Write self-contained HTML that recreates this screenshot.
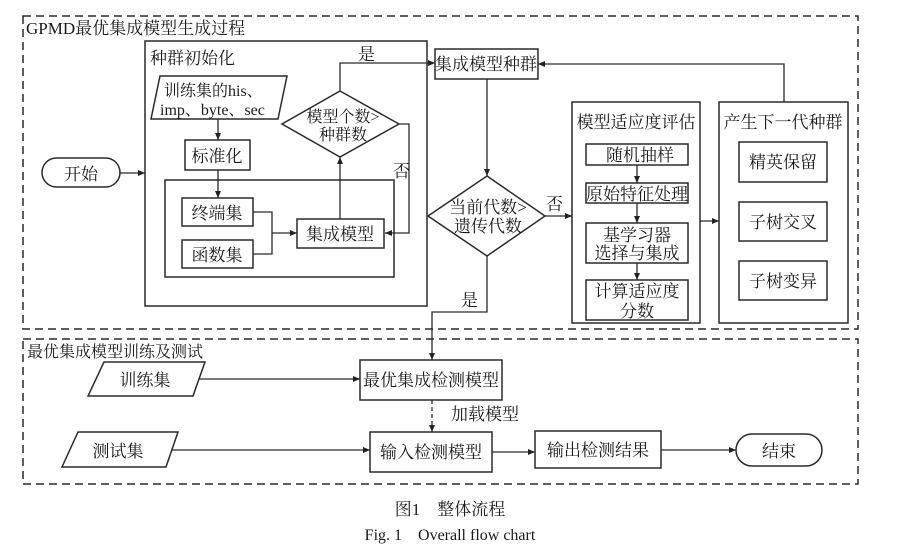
<!DOCTYPE html>
<html><head><meta charset="utf-8"><style>
body{margin:0;background:#fff}
svg{display:block}
text{font-family:"Liberation Serif","Noto Serif CJK SC",serif;fill:#1a1a1a}
</style></head><body>
<svg width="900" height="553" viewBox="0 0 900 553" xmlns="http://www.w3.org/2000/svg">
<defs><marker id="a" markerWidth="8" markerHeight="8" refX="7" refY="4" orient="auto" markerUnits="userSpaceOnUse"><path d="M0,1 L7,4 L0,7 Z" fill="#222"/></marker></defs>
<g fill="none" stroke="#2a2a2a" stroke-width="1.5">
<rect x="23" y="16" width="835" height="313" stroke-dasharray="8,5"/>
<rect x="23" y="339" width="835" height="145" stroke-dasharray="8,5"/>
<rect x="145" y="41" width="282" height="265"/>
<polygon points="160,76 287,76 278,119 151,119"/>
<rect x="185" y="140" width="65" height="30"/>
<rect x="165" y="180" width="229" height="97"/>
<rect x="182" y="198" width="71" height="28"/>
<rect x="182" y="240" width="71" height="28"/>
<rect x="297" y="219" width="87" height="29"/>
<polygon points="340,91 399,124 340,157 282,124"/>
<rect x="42" y="158" width="78" height="29" rx="14.5"/>
<rect x="435" y="49" width="103" height="30"/>
<polygon points="487,176 545,216 487,256 428,216"/>
<rect x="572" y="102" width="128" height="221"/>
<rect x="586" y="144" width="102" height="21"/>
<rect x="586" y="183" width="102" height="20"/>
<rect x="586" y="223" width="102" height="40"/>
<rect x="586" y="280" width="102" height="40"/>
<rect x="719" y="102" width="129" height="221"/>
<rect x="739" y="142" width="88" height="40"/>
<rect x="739" y="202" width="88" height="39"/>
<rect x="739" y="261" width="88" height="39"/>
<polygon points="104,362 205,362 193,396 88,396"/>
<rect x="360" y="360" width="142" height="40"/>
<polygon points="78,432 178,432 166,467 62,467"/>
<rect x="370" y="432" width="122" height="40"/>
<rect x="535" y="431" width="126" height="37"/>
<rect x="736" y="434" width="86" height="32" rx="16"/>
</g>
<g fill="none" stroke="#2a2a2a" stroke-width="1.3" marker-end="url(#a)">
<path d="M120,173 H145"/>
<path d="M218,119 V140"/>
<path d="M218,170 V198"/>
<path d="M253,212 H272 V254 H253 M272,233 H297"/>
<path d="M340,219 V157"/>
<path d="M399,124 H409 V233 H385"/>
<path d="M340,91 V63 H435"/>
<path d="M784,102 V64 H538"/>
<path d="M487,79 V176"/>
<path d="M545,216 H572"/>
<path d="M637,165 V183"/>
<path d="M637,203 V223"/>
<path d="M637,263 V280"/>
<path d="M700,221 H719"/>
<path d="M487,256 V312 H432 V360"/>
<path d="M199,379 H360"/>
<path d="M432,400 V432" stroke-dasharray="4,3"/>
<path d="M172,450 H370"/>
<path d="M492,452 H535"/>
<path d="M661,450 H736"/>
</g>
<g font-size="17">
<text x="26" y="34">GPMD最优集成模型生成过程</text>
<text x="150" y="64">种群初始化</text>
<text x="164" y="96" font-size="16">训练集的his、</text>
<text x="160" y="115" font-size="16">imp、byte、sec</text>
<text x="217" y="162" text-anchor="middle">标准化</text>
<text x="217" y="219" text-anchor="middle">终端集</text>
<text x="217" y="261" text-anchor="middle">函数集</text>
<text x="340" y="240" text-anchor="middle">集成模型</text>
<text x="343" y="122" text-anchor="middle" font-size="16">模型个数&gt;</text>
<text x="343" y="140" text-anchor="middle" font-size="16">种群数</text>
<text x="358" y="60">是</text>
<text x="393" y="177">否</text>
<text x="81" y="180" text-anchor="middle">开始</text>
<text x="486" y="70" text-anchor="middle">集成模型种群</text>
<text x="488" y="213" text-anchor="middle">当前代数&gt;</text>
<text x="488" y="232" text-anchor="middle">遗传代数</text>
<text x="546" y="210">否</text>
<text x="461" y="306">是</text>
<text x="636" y="128" text-anchor="middle">模型适应度评估</text>
<text x="640" y="161" text-anchor="middle">随机抽样</text>
<text x="637" y="200" text-anchor="middle">原始特征处理</text>
<text x="637" y="241" text-anchor="middle">基学习器</text>
<text x="637" y="259" text-anchor="middle">选择与集成</text>
<text x="637" y="297" text-anchor="middle">计算适应度</text>
<text x="637" y="317" text-anchor="middle">分数</text>
<text x="783" y="128" text-anchor="middle">产生下一代种群</text>
<text x="783" y="168" text-anchor="middle">精英保留</text>
<text x="783" y="228" text-anchor="middle">子树交叉</text>
<text x="783" y="287" text-anchor="middle">子树变异</text>
<text x="27" y="357" font-size="16">最优集成模型训练及测试</text>
<text x="145" y="386" text-anchor="middle">训练集</text>
<text x="431" y="386" text-anchor="middle">最优集成检测模型</text>
<text x="451" y="420">加载模型</text>
<text x="118" y="457" text-anchor="middle">测试集</text>
<text x="431" y="458" text-anchor="middle">输入检测模型</text>
<text x="598" y="456" text-anchor="middle">输出检测结果</text>
<text x="779" y="457" text-anchor="middle">结束</text>
<text x="450" y="515" text-anchor="middle" font-size="17">图1　整体流程</text>
<text x="450" y="540" text-anchor="middle" font-size="16">Fig. 1　Overall flow chart</text>
</g>
</svg>
</body></html>
